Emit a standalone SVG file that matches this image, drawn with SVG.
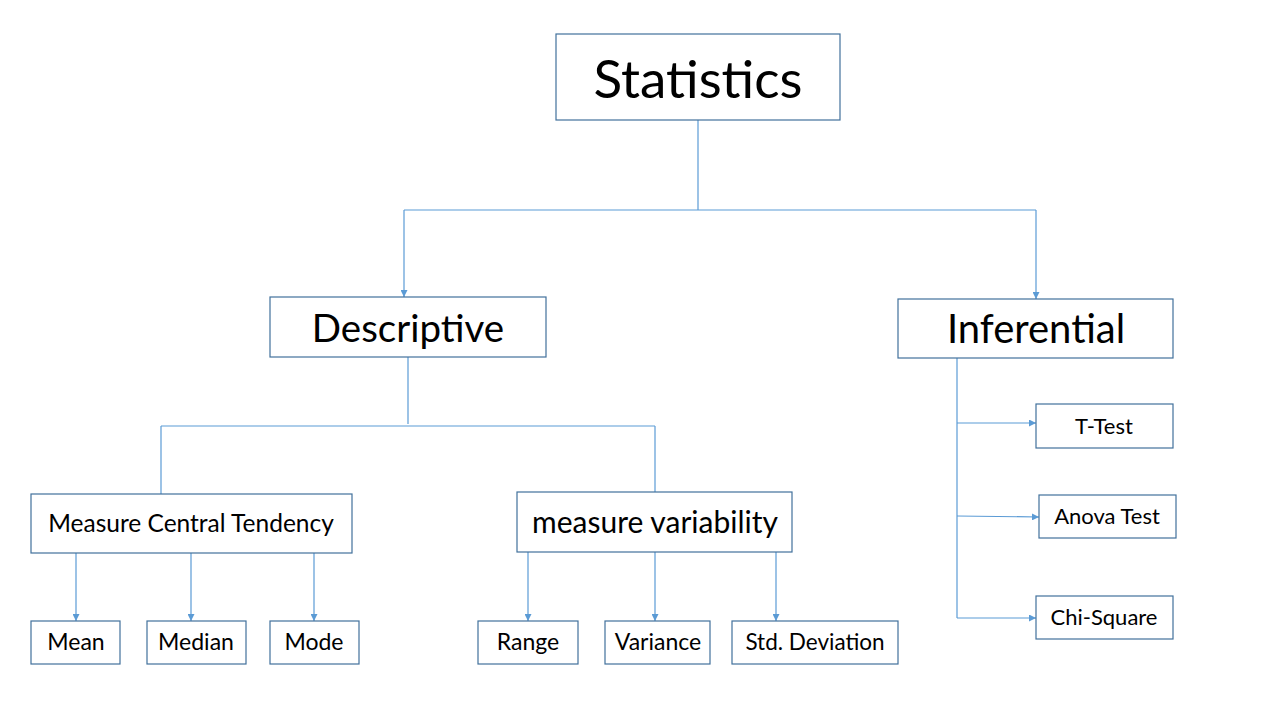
<svg xmlns="http://www.w3.org/2000/svg" width="1280" height="720" viewBox="0 0 1280 720">
<style>
.box{fill:#fff;stroke:#41719C;stroke-width:1.2}
.t{font-family:Lato,"Open Sans","Liberation Sans",sans-serif;fill:#000;text-anchor:middle}
.c{fill:none;stroke:#5B9BD5;stroke-width:1.2}
</style>
<defs>
<marker id="ah" viewBox="0 0 10 10" refX="10" refY="5" markerWidth="7" markerHeight="7" markerUnits="userSpaceOnUse" orient="auto">
<path d="M0,0 L10,5 L0,10 z" fill="#5B9BD5"/>
</marker>
</defs>
<rect width="1280" height="720" fill="#fff"/>
<g id="connectors">
<path class="c" d="M698,120 V210"/>
<path class="c" d="M404,210 H1036"/>
<path class="c" d="M404,210 V297" marker-end="url(#ah)"/>
<path class="c" d="M1036,210 V299" marker-end="url(#ah)"/>
<path class="c" d="M408,357 V424"/>
<path class="c" d="M161,426 H655"/>
<path class="c" d="M161,426 V494"/>
<path class="c" d="M655,426 V492"/>
<path class="c" d="M76,553 V621" marker-end="url(#ah)"/>
<path class="c" d="M191,553 V621" marker-end="url(#ah)"/>
<path class="c" d="M314,553 V621" marker-end="url(#ah)"/>
<path class="c" d="M528,552 V621" marker-end="url(#ah)"/>
<path class="c" d="M655,552 V621" marker-end="url(#ah)"/>
<path class="c" d="M776,552 V621" marker-end="url(#ah)"/>
<path class="c" d="M957,358 V618"/>
<path class="c" d="M957,423 H1036" marker-end="url(#ah)"/>
<path class="c" d="M957,516 L1039,517" marker-end="url(#ah)"/>
<path class="c" d="M957,618 H1036" marker-end="url(#ah)"/>
</g>
<g id="statistics"><rect class="box" x="556" y="34" width="284" height="86"/><text class="t" x="698" y="98" font-size="53">Statistics</text></g>
<g id="descriptive"><rect class="box" x="270" y="297" width="276" height="60"/><text class="t" x="408" y="342" font-size="38.5">Descriptive</text></g>
<g id="inferential"><rect class="box" x="898" y="299" width="275" height="59"/><text class="t" x="1036" y="343" font-size="40">Inferential</text></g>
<g id="mct"><rect class="box" x="31" y="494" width="321" height="59"/><text class="t" x="191" y="532" font-size="24.5">Measure Central Tendency</text></g>
<g id="mv"><rect class="box" x="517" y="492" width="275" height="60"/><text class="t" x="655" y="533" font-size="30">measure variability</text></g>
<g id="mean"><rect class="box" x="31" y="621" width="89" height="43"/><text class="t" x="76" y="650" font-size="23">Mean</text></g>
<g id="median"><rect class="box" x="147" y="621" width="99" height="43"/><text class="t" x="196" y="650" font-size="23">Median</text></g>
<g id="mode"><rect class="box" x="270" y="621" width="89" height="43"/><text class="t" x="314" y="650" font-size="23">Mode</text></g>
<g id="range"><rect class="box" x="478" y="621" width="100" height="43"/><text class="t" x="528" y="650" font-size="23">Range</text></g>
<g id="variance"><rect class="box" x="605" y="621" width="105" height="43"/><text class="t" x="658" y="650" font-size="23">Variance</text></g>
<g id="stddev"><rect class="box" x="732" y="621" width="166" height="43"/><text class="t" x="815" y="650" font-size="22.5">Std. Deviation</text></g>
<g id="ttest"><rect class="box" x="1036" y="404" width="137" height="44"/><text class="t" x="1104" y="434" font-size="22">T-Test</text></g>
<g id="anova"><rect class="box" x="1039" y="495" width="137" height="43"/><text class="t" x="1107" y="524" font-size="22">Anova Test</text></g>
<g id="chisquare"><rect class="box" x="1036" y="596" width="137" height="43"/><text class="t" x="1104" y="625" font-size="22">Chi-Square</text></g>
</svg>
